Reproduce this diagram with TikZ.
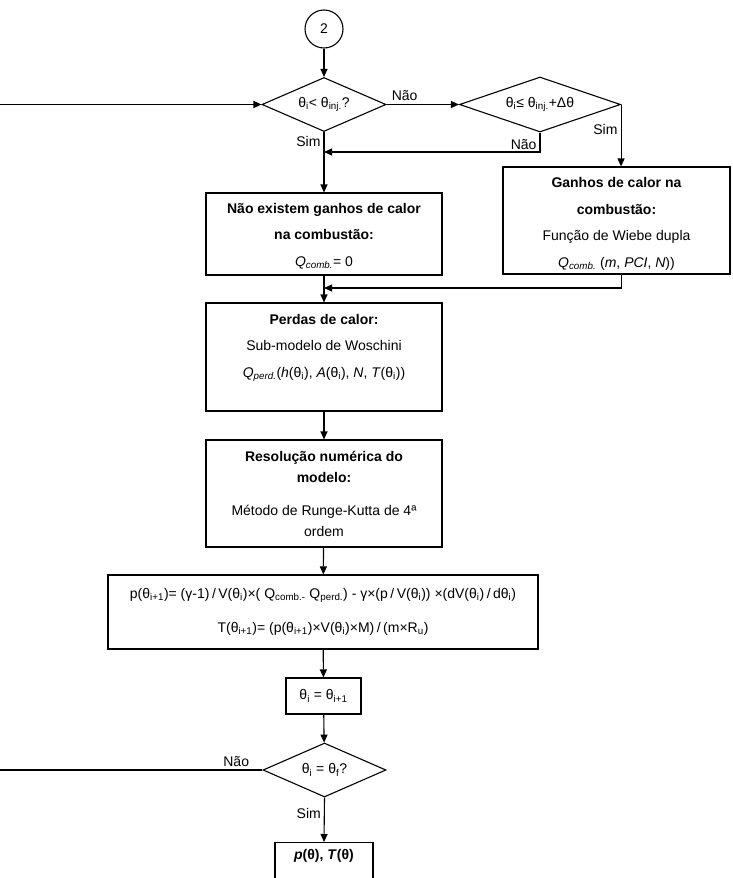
\documentclass[tikz,border=0pt]{standalone}
\usepackage{fontspec}
\setmainfont{Liberation Sans}
\usetikzlibrary{shapes.geometric,arrows.meta}
\newcommand{\ix}[1]{\textsubscript{#1}}
\newcommand{\dv}{\kern2.5pt/\kern2.5pt}

\begin{document}
\begin{tikzpicture}[x=1pt,y=-1pt,line width=1.1pt,
  >={Triangle[length=8pt,width=7pt]},
  every node/.style={font=\fontsize{14}{26.5}\selectfont},
  box/.style={draw,rectangle,align=center,inner sep=4pt,minimum width=236pt},
  test/.style={draw,diamond,inner sep=0pt,aspect=2.3},
  lbl/.style={inner sep=3pt}]
\useasboundingbox (0,0) rectangle (732,878);

\node (c2) [draw,circle,minimum size=38pt,inner sep=0pt] at (324,29) {2};
\node (d1) [test,minimum width=124pt,minimum height=54pt] at (324,104.5) {θ\ix{i}< θ\ix{inj.}?};
\node (d2) [test,minimum width=161pt,minimum height=55pt] at (540,104.5) {θ\ix{i}≤ θ\ix{inj.}+Δθ};
\node (nx) [box,minimum height=82pt] at (324,234)
  {\mbox{}\\[-12.3pt]\textbf{Não existem ganhos de calor}\\\textbf{na combustão:}\\\textit{Q\ix{comb.}}= 0};
\node (g) [box,minimum width=227pt,minimum height=107pt] at (616.5,220.5)
  {\mbox{}\\[-10pt]\textbf{Ganhos de calor na}\\\textbf{combustão:}\\Função de Wiebe dupla\\\textit{Q\ix{comb.}} (\textit{m}, \textit{PCI}, \textit{N}))};
\node (p) [box,minimum height=108pt] at (324,357)
  {\textbf{Perdas de calor:}\\Sub-modelo de Woschini\\\textit{Q\ix{perd.}}(\textit{h}(θ\ix{i}), \textit{A}(θ\ix{i}), \textit{N}, \textit{T}(θ\ix{i}))\\[-4pt]\mbox{}};
\node (r) [box,minimum height=107pt,font=\fontsize{14}{21}\selectfont] at (324,493.5)
  {\textbf{Resolução numérica do}\\\textbf{modelo:}\\[12pt]Método de Runge-Kutta de 4ª\\ordem};
\node (eq) [box,minimum width=430pt,minimum height=74pt,font=\fontsize{14}{34}\selectfont] at (323,612)
  {p(θ\ix{i+1})= (γ-1)\dv V(θ\ix{i})×( Q\ix{comb.-} Q\ix{perd.}) - γ×(p\dv V(θ\ix{i})) ×(dV(θ\ix{i})\dv dθ\ix{i})\\
   T(θ\ix{i+1})= (p(θ\ix{i+1})×V(θ\ix{i})×M)\dv(m×R\ix{u})};
\node (upd) [box,minimum width=75pt,minimum height=36pt] at (323.5,696) {θ\ix{i} = θ\ix{i+1}};
\node (d3) [test,minimum width=123pt,minimum height=54pt] at (324.5,770) {θ\ix{i} = θ\ix{f}?};
\node (fim) [box,anchor=north,minimum width=98pt,inner ysep=7pt,text depth=30pt] at (324,842)
  {\textbf{\textit{p}(θ), \textit{T}(θ)}};

\coordinate (in1) at (0,104.5);
\coordinate (j1) at (324,152);
\coordinate (j2) at (324,288);
\coordinate (out3) at (0,770);

\draw[->] (c2) -- (d1);
\draw[->] (in1) -- (d1.west);
\draw[->] (d1.east) -- node[lbl,above,pos=0.25] (n1) {Não} (d2.west);
\draw[->] (d1.south) -- node[lbl,left,pos=0.15] (s1) {Sim} (nx.north);
\draw[->] (d2.south) |- node[lbl,left,pos=0.3] (n2) {Não} (j1);
\draw[->] (d2.east) -- node[lbl,left,pos=0.41] (s2) {Sim} (d2.east |- g.north);
\draw[->] (g.south -| d2.east) |- (j2);
\draw[->] (nx) -- (p);
\draw[->] (p) -- (r);
\draw[->] (r) -- (eq);
\draw[->] (eq) -- (upd);
\draw[->] (upd) -- (d3);
\draw (d3.west) -- node[lbl,above,pos=0.1] (n3) {Não} (out3);
\draw[->] (d3.south) -- node[lbl,left,pos=0.36] (s3) {Sim} (fim.north);

\end{tikzpicture}
\end{document}
